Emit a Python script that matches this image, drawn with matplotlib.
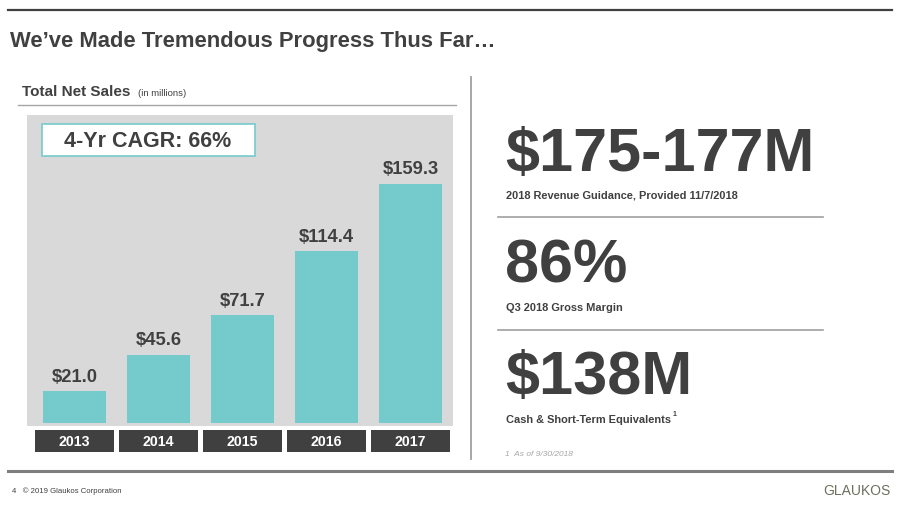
import matplotlib
matplotlib.use("Agg")
import matplotlib.pyplot as plt
from matplotlib.patches import Rectangle
from matplotlib.lines import Line2D

plt.rcParams['font.family'] = ['Liberation Sans', 'DejaVu Sans']

# data
years = ['2013', '2014', '2015', '2016', '2017']
net_sales = [21.0, 45.6, 71.7, 114.4, 159.3]
sales_labels = ['$21.0', '$45.6', '$71.7', '$114.4', '$159.3']
cagr_text = '4-Yr CAGR: 66%'

big_numbers = ['$175-177M', '86%', '$138M']
big_captions = ['2018 Revenue Guidance, Provided 11/7/2018',
                'Q3 2018 Gross Margin',
                'Cash & Short-Term Equivalents']

DARK = '#404040'
TEAL = '#75cbcc'
PANEL = '#d9d9d9'

W, H = 900, 506
fig = plt.figure(figsize=(W / 100, H / 100), dpi=100)
fig.patch.set_facecolor('white')


def px(x, y):
    # pixel coords (top-left origin) -> figure fraction
    return x / W, 1 - y / H


def hline(x0, x1, y, color, lw):
    a, b = px(x0, y)
    c, _ = px(x1, y)
    fig.add_artist(Line2D([a, c], [b, b], color=color, lw=lw, transform=fig.transFigure))


def vline(x, y0, y1, color, lw):
    a, b = px(x, y0)
    _, d = px(x, y1)
    fig.add_artist(Line2D([a, a], [b, d], color=color, lw=lw, transform=fig.transFigure))


# header / footer rules
hline(8, 892, 11, '#404040', 1.6)
hline(8, 892, 472, '#7f7f7f', 2.2)
hline(18, 456, 106, '#a6a6a6', 1.0)
vline(471, 78, 460, '#a0a0a0', 1.3)

fig.text(*px(10, 42), 'We\u2019ve Made Tremendous Progress Thus Far\u2026',
         fontsize=15.8, fontweight='bold', color=DARK, va='center', ha='left')
fig.text(*px(22, 92), 'Total Net Sales', fontsize=11, fontweight='bold',
         color=DARK, va='center', ha='left')
fig.text(*px(138, 93.5), '(in millions)', fontsize=6.8, color=DARK, va='center', ha='left')

# bar chart panel
x0, x1 = -0.565, 4.506
ax = fig.add_axes([27 / W, 1 - 427 / H, (453 - 27) / W, (427 - 116) / H])
ax.set_facecolor(PANEL)
xs = list(range(len(years)))
ax.bar(xs, net_sales, width=0.75, color=TEAL, zorder=2)
ax.set_xlim(x0, x1)
ax.set_ylim(-2, 205.3)
for s in ax.spines.values():
    s.set_visible(False)
ax.set_xticks([])
ax.set_yticks([])

for x, v, lab in zip(xs, net_sales, sales_labels):
    ax.text(x, v + 4.5, lab, ha='center', va='bottom', fontsize=13.2,
            fontweight='bold', color=DARK)

# year boxes under the panel
for x, yr in zip(xs, years):
    ax.add_patch(Rectangle((x - 0.47, -19.3), 0.94, 14.6, facecolor=DARK,
                           edgecolor='none', clip_on=False, zorder=3))
    ax.text(x, -12.0, yr, ha='center', va='center', fontsize=10.2,
            fontweight='bold', color='white', clip_on=False, zorder=4)

# CAGR box
fig.add_artist(Rectangle(px(42, 157), 213 / W, 32 / H, facecolor='white',
                         edgecolor=TEAL, lw=1.2, transform=fig.transFigure, zorder=5))
fig.text(*px(148, 142), cagr_text, ha='center', va='center', fontsize=15.5,
         fontweight='bold', color=DARK, zorder=6)

# right side key figures
big_y = [155, 267, 379]
cap_y = [195, 308, 420]
for num, cap, by, cy in zip(big_numbers, big_captions, big_y, cap_y):
    fig.text(*px(505, by), num, fontsize=44, fontweight='bold', color=DARK,
             ha='left', va='center')
    fig.text(*px(506, cy), cap, fontsize=7.9, fontweight='bold', color=DARK,
             ha='left', va='center')
# footnote marker on the last caption
fig.text(*px(673, 414), '1', fontsize=5, fontweight='bold', color=DARK,
         ha='left', va='center')
hline(498, 823, 218, '#a0a0a0', 1.2)
hline(498, 823, 331, '#a0a0a0', 1.2)

fig.text(*px(505, 455), '1  As of 9/30/2018', fontsize=6, style='italic',
         color='#a6a6a6', ha='left', va='center')

# footer
fig.text(*px(12, 491), '4   \u00a9 2019 Glaukos Corporation', fontsize=5.6,
         color=DARK, ha='left', va='center')
fig.text(*px(890, 491), 'GLAUKOS', fontsize=10, color='#6e6e5e',
         ha='right', va='center')

fig.savefig('out.png', dpi=100, facecolor='white')
